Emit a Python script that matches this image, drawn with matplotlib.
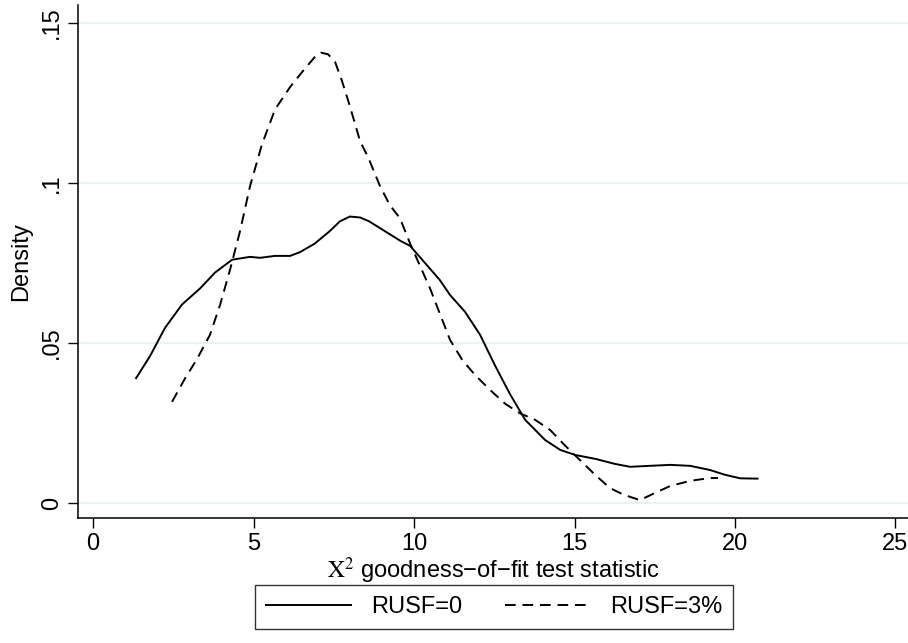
import numpy as np
import matplotlib
matplotlib.use("Agg")
import matplotlib.pyplot as plt

# Kernel density of the chi-square statistic
x_rusf0 = [1.34, 1.78, 2.24, 2.77, 3.33, 3.80, 4.33, 4.89, 5.20, 5.67, 6.14, 6.45,
           6.90, 7.38, 7.69, 8.00, 8.32, 8.60, 9.00, 9.56, 9.88, 10.34, 10.80,
           11.12, 11.59, 12.06, 12.52, 12.99, 13.46, 14.08, 14.55, 15.02, 15.64,
           16.26, 16.73, 17.35, 17.98, 18.60, 19.22, 19.69, 20.16, 20.70]
y_rusf0 = [0.0390, 0.0460, 0.0547, 0.0620, 0.0670, 0.0720, 0.0760, 0.0769, 0.0766,
           0.0772, 0.0772, 0.0784, 0.0810, 0.0850, 0.0880, 0.0895, 0.0892, 0.0880,
           0.0855, 0.0820, 0.0803, 0.0750, 0.0697, 0.0650, 0.0597, 0.0525, 0.0430,
           0.0340, 0.0260, 0.0197, 0.0166, 0.0150, 0.0138, 0.0122, 0.0113, 0.0116,
           0.0119, 0.0116, 0.0103, 0.0088, 0.0077, 0.0076]

x_rusf3 = [2.46, 2.87, 3.24, 3.64, 3.96, 4.27, 4.58, 4.89, 5.26, 5.67, 6.14, 6.54,
           6.92, 7.10, 7.32, 7.54, 7.75, 8.00, 8.32, 8.57, 8.94, 9.25, 9.56, 9.88,
           10.19, 10.50, 10.81, 11.12, 11.50, 11.90, 12.37, 12.84, 13.30, 13.77,
           14.24, 14.70, 15.17, 15.64, 16.10, 16.42, 16.73, 17.04, 17.50, 17.98,
           18.60, 19.22, 19.47]
y_rusf3 = [0.0316, 0.0390, 0.0450, 0.0525, 0.0620, 0.0730, 0.0850, 0.0990, 0.1120,
           0.1230, 0.1300, 0.1350, 0.1395, 0.1407, 0.1402, 0.1378, 0.1320, 0.1240,
           0.1130, 0.1080, 0.0990, 0.0930, 0.0890, 0.0810, 0.0740, 0.0670, 0.0590,
           0.0510, 0.0447, 0.0400, 0.0353, 0.0310, 0.0280, 0.0260, 0.0228, 0.0180,
           0.0134, 0.0088, 0.0047, 0.0031, 0.0019, 0.0009, 0.0031, 0.0053, 0.0069,
           0.0078, 0.0078]

xticks = [0, 5, 10, 15, 20, 25]
yticks = [0, 0.05, 0.1, 0.15]
ytick_labels = ["0", ".05", ".1", ".15"]

plt.rcParams["font.family"] = ["Liberation Sans", "DejaVu Sans"]
plt.rcParams["mathtext.fontset"] = "stix"

fig = plt.figure(figsize=(9.08, 6.43), dpi=100)
ax = fig.add_axes([78 / 908, 125 / 643, 830 / 908, 513 / 643])

ax.plot(x_rusf0, y_rusf0, color="black", lw=1.4, label="RUSF=0")
ax.plot(x_rusf3, y_rusf3, color="black", lw=1.4, dashes=(5.5, 3.5), label="RUSF=3%")

ax.set_xlim(-0.47, 25.39)
ax.set_ylim(-0.0047, 0.1556)
ax.set_xticks(xticks)
ax.set_yticks(yticks)
ax.set_yticklabels(ytick_labels, rotation=90, va="center")
ax.tick_params(axis="both", direction="out", length=7, width=1, labelsize=17,
               color="black", pad=4)
ax.grid(axis="y", color="#eaf2f3", lw=1.5)
ax.set_axisbelow(True)

for s in ["top", "right"]:
    ax.spines[s].set_visible(False)
for s in ["left", "bottom"]:
    ax.spines[s].set_linewidth(1.1)

ax.set_ylabel("Density", fontsize=17, labelpad=6)
ax.set_xlabel(r"$\mathrm{X}^{2}$ goodness−of−fit test statistic", fontsize=17,
              labelpad=0)

leg = fig.legend(loc="center", bbox_to_anchor=(494 / 908, 1 - 607 / 643), ncol=2,
                 fontsize=17, frameon=True, fancybox=False, edgecolor="black",
                 handlelength=3.6, handletextpad=0.85, columnspacing=1.8,
                 borderpad=0.45)
leg.get_frame().set_linewidth(1.0)

fig.savefig("out.png", dpi=100)
